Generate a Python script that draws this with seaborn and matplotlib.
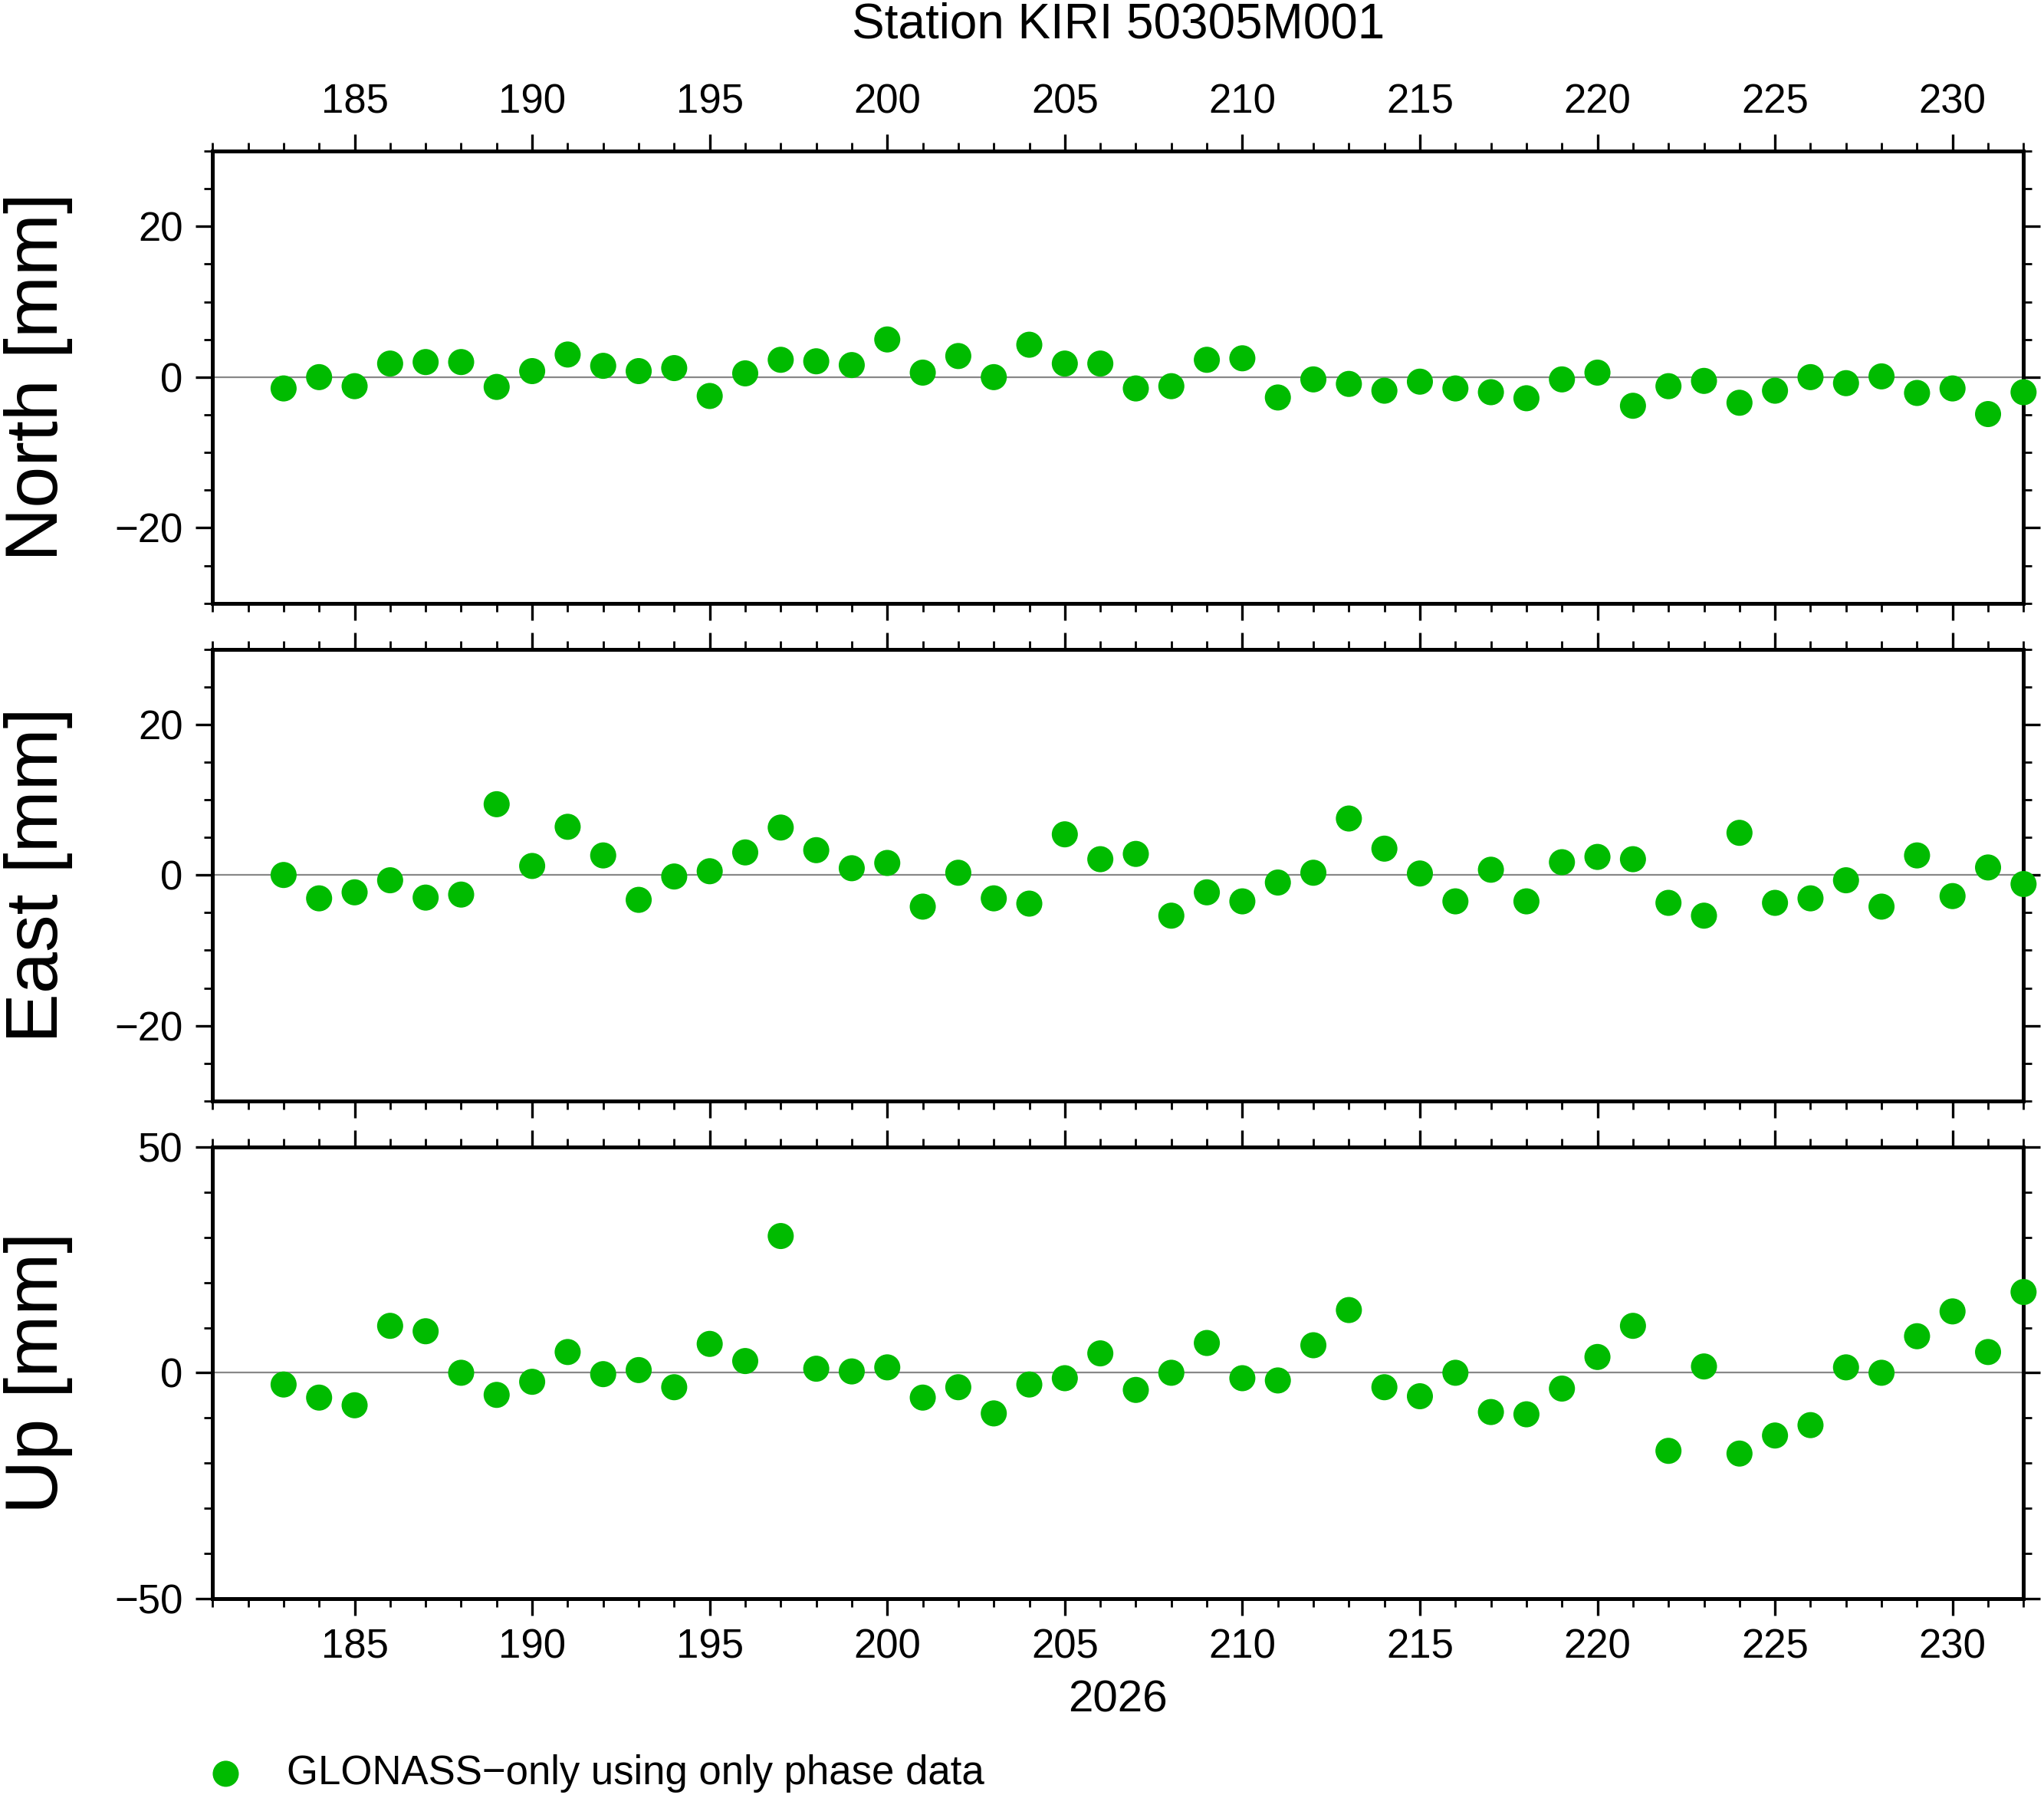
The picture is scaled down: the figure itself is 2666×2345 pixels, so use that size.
import numpy as np
import pandas as pd
import seaborn as sns
import matplotlib.pyplot as plt
from matplotlib.ticker import MultipleLocator

days = list(range(183, 233))
north = [-1.5, 0, -1.2, 1.8, 2, 2, -1.3, 0.8, 3, 1.5, 0.8, 1.2, -2.5, 0.5, 2.3, 2.1, 1.6, 5, 0.6, 2.8,
         0, 4.3, 1.8, 1.8, -1.5, -1.2, 2.3, 2.5, -2.7, -0.3, -0.9, -1.8, -0.6, -1.5, -2, -2.8, -0.3, 0.6,
         -3.8, -1.2, -0.5, -3.4, -1.8, 0, -0.8, 0.1, -2.1, -1.5, -4.9, -2]
east = [0, -3.1, -2.3, -0.7, -3, -2.6, 9.4, 1.2, 6.4, 2.6, -3.3, -0.2, 0.5, 3, 6.3, 3.3, 0.9, 1.6, -4.2, 0.3,
        -3.1, -3.8, 5.4, 2.1, 2.8, -5.4, -2.3, -3.5, -1, 0.3, 7.5, 3.5, 0.2, -3.5, 0.7, -3.5, 1.7, 2.4,
        2.1, -3.7, -5.4, 5.6, -3.7, -3.1, -0.7, -4.2, 2.6, -2.8, 1, -1.2]
up = [-2.6, -5.5, -7.2, 10.4, 9.2, 0, -4.9, -2, 4.6, -0.3, 0.6, -3.2, 6.4, 2.6, 30.3, 0.9, 0.3, 1.2, -5.5, -3.2,
      -9, -2.6, -1.2, 4.3, -3.8, 0, 6.6, -1.2, -1.7, 6.1, 13.9, -3.2, -5.2, 0, -8.7, -9.2, -3.5, 3.5,
      10.4, -17.3, 1.4, -17.9, -13.9, -11.6, 1.2, 0, 8.1, 13.6, 4.6, 17.9]

sns.set_theme(style="ticks")
plt.rcParams['font.family'] = ['Liberation Sans', 'DejaVu Sans']
plt.rcParams['axes.unicode_minus'] = True
plt.rcParams['text.color'] = 'black'
plt.rcParams['xtick.color'] = 'black'
plt.rcParams['ytick.color'] = 'black'
plt.rcParams['axes.labelcolor'] = 'black'
plt.rcParams['axes.edgecolor'] = 'black'

fig = plt.figure(figsize=(13.33, 11.725), dpi=200)
left, width = 0.104, 0.886
panels = [("North [mm]", north, 0.6645, 0.916, 30, 20, 5),
          ("East [mm]", east, 0.3877, 0.639, 30, 20, 5),
          ("Up [mm]", up, 0.111, 0.362, 50, 50, 10)]
green = '#00bb00'
for i, (lab, vals, b, t, lim, maj, mnr) in enumerate(panels):
    ax = fig.add_axes([left, b, width, t - b])
    df = pd.DataFrame({'day': days, 'v': vals})
    ax.axhline(0, color='#888888', lw=0.8, zorder=0)
    sns.scatterplot(data=df, x='day', y='v', ax=ax, color=green, s=150, edgecolor='none',
                    clip_on=False, zorder=3,
                    label='GLONASS\u2212only using only phase data' if i == 2 else None)
    ax.set_xlim(181, 232)
    ax.set_ylim(-lim, lim)
    ax.xaxis.set_major_locator(MultipleLocator(5))
    ax.xaxis.set_minor_locator(MultipleLocator(1))
    ax.yaxis.set_major_locator(MultipleLocator(maj))
    ax.yaxis.set_minor_locator(MultipleLocator(mnr))
    ax.tick_params(which='major', direction='out', length=8, width=1.2, labelsize=19,
                   top=True, right=True, labeltop=(i == 0), labelbottom=(i == 2), pad=6)
    ax.tick_params(which='minor', direction='out', length=4, width=1, top=True, right=True)
    for s in ax.spines.values():
        s.set_linewidth(1.8)
    ax.set_xlabel('')
    ax.set_ylabel(lab, fontsize=35)
    ax.yaxis.set_label_coords(-0.077, 0.5)
    if i == 0:
        ax.set_title('Station KIRI 50305M001', fontsize=23, pad=53)
    if i == 2:
        ax.set_xlabel('2026', fontsize=21, labelpad=6)
        leg = ax.legend(loc='upper left', bbox_to_anchor=(-0.024, -0.31), frameon=False,
                        fontsize=19, handletextpad=0.5, markerscale=1.0, borderaxespad=0)

fig.savefig('out.png', dpi=200)
